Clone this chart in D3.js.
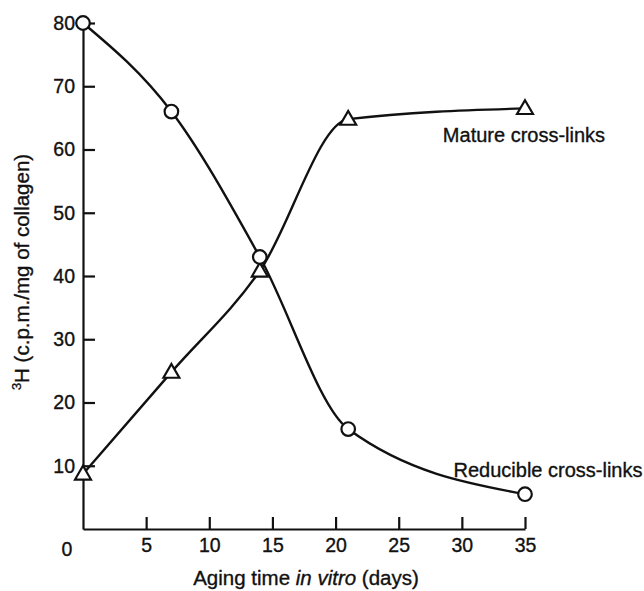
<!DOCTYPE html>
<html>
<head>
<meta charset="utf-8">
<script src="https://cdn.jsdelivr.net/npm/d3@7"></script>
<style>
  body { margin: 0; background: #fff; }
  svg text { font-family: "Liberation Sans", Arial, sans-serif; fill: #111; stroke: #111; stroke-width: 0.35px; }
</style>
</head>
<body>
<svg id="chart" width="644" height="591"></svg>
<script>
// aging days and the two cross-link series
const days = [0, 7, 14, 21, 35];
const reducible = [80, 66, 43, 15.8, 5.5];
const mature = [8.7, 24.8, 40.8, 64.8, 66.5];
const xTicks = [5, 10, 15, 20, 25, 30, 35];
const yTicks = [10, 20, 30, 40, 50, 60, 70, 80];

const svg = d3.select("#chart");
const x = d3.scaleLinear().domain([0, 35]).range([83, 525]);
const y = d3.scaleLinear().domain([0, 80]).range([529, 23]);

// axes with the ticks turned inwards
const xAxis = d3.axisBottom(x).tickValues(xTicks).tickSizeInner(-12).tickSizeOuter(0).tickPadding(9);
const yAxis = d3.axisLeft(y).tickValues(yTicks).tickSizeInner(-12).tickSizeOuter(0).tickPadding(8);

svg.append("g")
   .attr("transform", `translate(0,${y(0)})`)
   .call(xAxis)
   .call(g => g.selectAll("text").attr("font-size", 19.5).attr("font-family", null));
svg.append("g")
   .attr("transform", `translate(${x(0)},0)`)
   .call(yAxis)
   .call(g => g.selectAll("text").attr("font-size", 19.5).attr("font-family", null));
svg.selectAll(".domain, .tick line").attr("stroke", "#111").attr("stroke-width", 2.2);

// shared origin label
svg.append("text")
   .attr("x", x(0) - 16).attr("y", y(0) + 27)
   .attr("text-anchor", "middle").attr("font-size", 19.5)
   .text("0");

// axis titles
svg.append("text")
   .attr("x", 306).attr("y", 585)
   .attr("text-anchor", "middle").attr("font-size", 20.5)
   .call(t => {
     t.append("tspan").text("Aging time ");
     t.append("tspan").attr("font-style", "italic").text("in vitro");
     t.append("tspan").text(" (days)");
   });

svg.append("text")
   .attr("transform", "translate(29,272) rotate(-90)")
   .attr("text-anchor", "middle").attr("font-size", 20.5)
   .call(t => {
     t.append("tspan").attr("font-size", 13).attr("dy", -8).text("3");
     t.append("tspan").attr("dy", 8).text("H (c.p.m./mg of collagen)");
   });

// smooth curves through the points
const line = d3.line().x(d => x(d[0])).y(d => y(d[1])).curve(d3.curveMonotoneX);
const redPts = days.map((d, i) => [d, reducible[i]]);
const matPts = days.map((d, i) => [d, mature[i]]);

svg.append("path").datum(matPts).attr("d", line)
   .attr("fill", "none").attr("stroke", "#111").attr("stroke-width", 2.4);
svg.append("path").datum(redPts).attr("d", line)
   .attr("fill", "none").attr("stroke", "#111").attr("stroke-width", 2.4);

const tri = d3.symbol().type(d3.symbolTriangle).size(110);
svg.selectAll(".tri").data(matPts).join("path")
   .attr("class", "tri")
   .attr("transform", d => `translate(${x(d[0])},${y(d[1]) + 1})`)
   .attr("d", tri)
   .attr("fill", "#fff").attr("stroke", "#111").attr("stroke-width", 2.2);

svg.selectAll(".circ").data(redPts).join("circle")
   .attr("class", "circ")
   .attr("cx", d => x(d[0])).attr("cy", d => y(d[1]))
   .attr("r", 6.8)
   .attr("fill", "#fff").attr("stroke", "#111").attr("stroke-width", 2.2);

// series labels
svg.append("text")
   .attr("x", 524).attr("y", 142)
   .attr("text-anchor", "middle").attr("font-size", 20)
   .text("Mature cross-links");
svg.append("text")
   .attr("x", 548).attr("y", 477)
   .attr("text-anchor", "middle").attr("font-size", 20)
   .text("Reducible cross-links");
</script>
</body>
</html>
